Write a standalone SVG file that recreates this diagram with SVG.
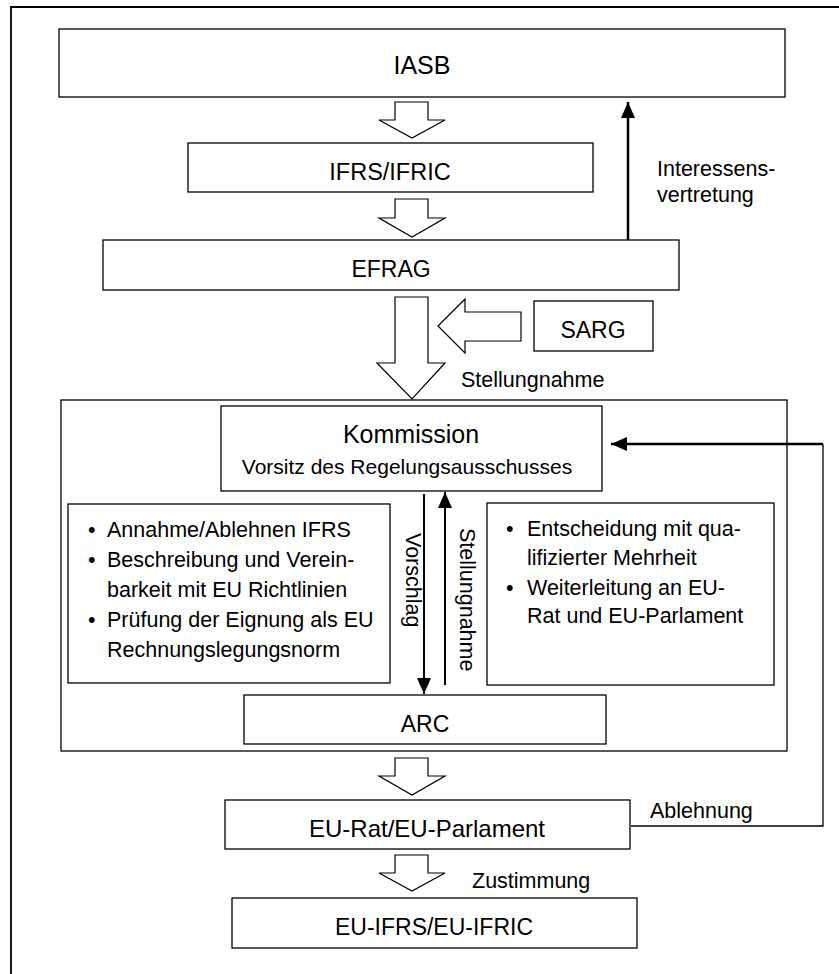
<svg xmlns="http://www.w3.org/2000/svg" width="839" height="974" viewBox="0 0 839 974">
<style>
  text { font-family: "Liberation Sans", Arial, sans-serif; fill: #000; }
  .box { fill: #fff; stroke: #000; stroke-width: 1.3; }
  .hollow { fill: #fff; stroke: #000; stroke-width: 1.2; stroke-linejoin: miter; }
  .t { text-anchor: middle; }
  .b { font-size: 21.5px; }
  .lbl { font-size: 21.5px; }
  .line { fill: none; stroke: #000; }
</style>
<defs>
  <marker id="ah" markerUnits="userSpaceOnUse" markerWidth="16" markerHeight="14" refX="16" refY="7" orient="auto">
    <path d="M0,0 L16,7 L0,14 Z" fill="#000"/>
  </marker>
</defs>
<rect x="0" y="0" width="839" height="974" fill="#fff"/>
<path d="M11,976 V7 H841" fill="none" stroke="#000" stroke-width="1.8"/>

<g id="IASB">
  <rect class="box" x="59" y="29" width="726" height="68"/>
  <text class="t" x="422" y="74" font-size="25">IASB</text>
</g>
<g id="IFRS_IFRIC">
  <rect class="box" x="188" y="143" width="405" height="49"/>
  <text class="t" x="390" y="180" font-size="23.5">IFRS/IFRIC</text>
</g>
<g id="EFRAG">
  <rect class="box" x="103" y="240" width="576" height="50"/>
  <text class="t" x="391" y="277" font-size="23">EFRAG</text>
</g>
<g id="SARG">
  <rect class="box" x="534" y="301" width="119" height="50"/>
  <text class="t" x="593" y="338" font-size="23">SARG</text>
</g>
<g id="Container">
  <rect class="box" x="61" y="400" width="726" height="351"/>
</g>
<g id="Kommission">
  <rect class="box" x="221" y="406" width="381" height="85"/>
  <text class="t" x="411" y="443" font-size="25">Kommission</text>
  <text class="t" x="407" y="474" font-size="21">Vorsitz des Regelungsausschusses</text>
</g>
<g id="LeftBox">
  <rect class="box" x="68" y="504" width="322" height="179"/>
  <text class="b" x="88" y="537">•</text><text class="b" x="107" y="537">Annahme/Ablehnen IFRS</text>
  <text class="b" x="88" y="567">•</text><text class="b" x="107" y="567">Beschreibung und Verein-</text>
  <text class="b" x="107" y="597">barkeit mit EU Richtlinien</text>
  <text class="b" x="88" y="627">•</text><text class="b" x="107" y="627">Prüfung der Eignung als EU</text>
  <text class="b" x="107" y="657">Rechnungslegungsnorm</text>
</g>
<g id="RightBox">
  <rect class="box" x="487" y="503" width="287" height="182"/>
  <text class="b" x="506" y="536">•</text><text class="b" x="527" y="536">Entscheidung mit qua-</text>
  <text class="b" x="527" y="565">lifizierter Mehrheit</text>
  <text class="b" x="506" y="595">•</text><text class="b" x="527" y="595">Weiterleitung an EU-</text>
  <text class="b" x="527" y="623">Rat und EU-Parlament</text>
</g>
<g id="ARC">
  <rect class="box" x="244" y="695" width="362" height="49"/>
  <text class="t" x="425" y="732" font-size="23">ARC</text>
</g>
<g id="EU_Rat">
  <rect class="box" x="225" y="800" width="405" height="49"/>
  <text class="t" x="427" y="837" font-size="24">EU-Rat/EU-Parlament</text>
</g>
<g id="EU_IFRS">
  <rect class="box" x="232" y="898" width="405" height="50"/>
  <text class="t" x="434" y="935" font-size="23">EU-IFRS/EU-IFRIC</text>
</g>

<g id="connectors">
  <polygon class="hollow" points="395,102 428,102 428,120 445,120 412,138 379,120 395,120"/>
  <polygon class="hollow" points="395,199 428,199 428,218 445,218 412,237 379,218 395,218"/>
  <polygon class="hollow" points="395,297 428,297 428,363 445,363 412,399 377,363 395,363"/>
  <polygon class="hollow" points="438,326 465,299 465,312 521,312 521,341 465,341 465,353"/>
  <polygon class="hollow" points="395,758 428,758 428,776 445,776 412,795 379,776 395,776"/>
  <polygon class="hollow" points="395,855 428,855 428,873 445,873 412,891 379,873 395,873"/>

  <line class="line" x1="628" y1="240" x2="628" y2="102" stroke-width="2.5" marker-end="url(#ah)"/>
  <line class="line" x1="424" y1="494" x2="424" y2="694" stroke-width="2" marker-end="url(#ah)"/>
  <line class="line" x1="445" y1="685" x2="445" y2="492" stroke-width="2" marker-end="url(#ah)"/>
  <path class="line" d="M631,826 H823 V444" stroke-width="1.3"/>
  <line class="line" x1="823" y1="444" x2="611" y2="444" stroke-width="2.5" marker-end="url(#ah)"/>

  <text class="lbl" x="657" y="176">Interessens-</text>
  <text class="lbl" x="657" y="202">vertretung</text>
  <text class="lbl" x="461" y="387">Stellungnahme</text>
  <text class="lbl" x="650" y="818">Ablehnung</text>
  <text class="lbl" x="472" y="888">Zustimmung</text>
  <text class="lbl" transform="translate(406,533) rotate(90)">Vorschlag</text>
  <text class="lbl" transform="translate(460,528) rotate(90)">Stellungnahme</text>
</g>
</svg>
